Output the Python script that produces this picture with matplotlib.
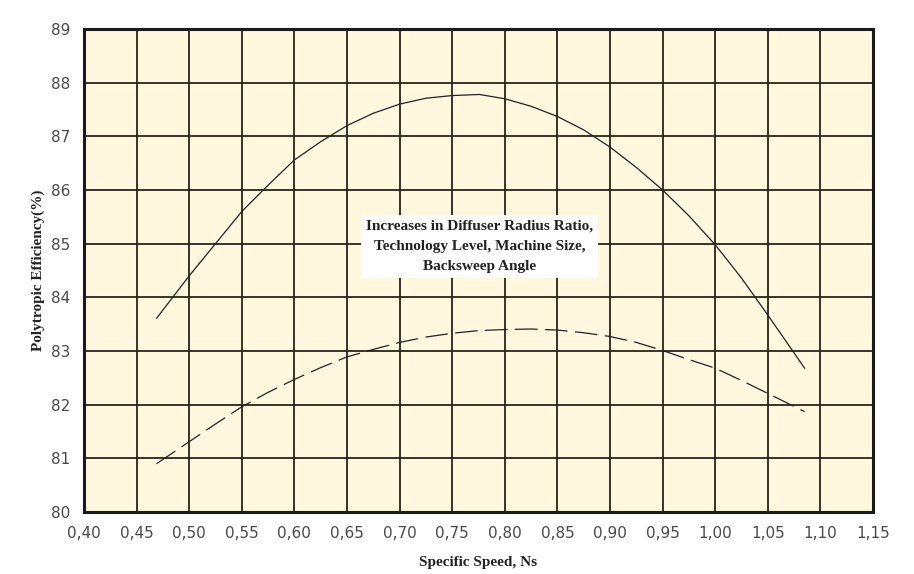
import matplotlib
matplotlib.use("Agg")
import matplotlib.pyplot as plt
from matplotlib.ticker import FuncFormatter, MultipleLocator

# Data
solid_x = [0.469, 0.50, 0.525, 0.55, 0.575, 0.60, 0.625, 0.65, 0.675, 0.70, 0.725, 0.75, 0.776,
           0.80, 0.825, 0.85, 0.875, 0.90, 0.925, 0.95, 0.975, 1.00, 1.025, 1.05, 1.085]
solid_y = [83.61, 84.40, 85.00, 85.60, 86.09, 86.56, 86.90, 87.20, 87.43, 87.60, 87.71, 87.76, 87.78,
           87.70, 87.56, 87.37, 87.12, 86.80, 86.42, 86.00, 85.52, 84.98, 84.36, 83.67, 82.68]

dashed_x = [0.469, 0.50, 0.525, 0.55, 0.575, 0.60, 0.625, 0.65, 0.675, 0.70, 0.725, 0.75, 0.775,
            0.80, 0.825, 0.85, 0.875, 0.90, 0.925, 0.95, 0.975, 1.00, 1.025, 1.05, 1.085]
dashed_y = [80.90, 81.31, 81.64, 81.96, 82.23, 82.47, 82.69, 82.89, 83.03, 83.16, 83.26, 83.33, 83.38,
            83.40, 83.41, 83.39, 83.34, 83.27, 83.16, 83.01, 82.84, 82.68, 82.45, 82.21, 81.87]

xlabel = "Specific Speed, Ns"
ylabel = "Polytropic Efficiency(%)"
note = "Increases in Diffuser Radius Ratio,\nTechnology Level, Machine Size,\nBacksweep Angle"
note_pos = (0.776, 84.95)

fig = plt.figure(figsize=(9.14, 5.74), dpi=100)
ax = fig.add_axes([84/914, 1-512/574, (873-84)/914, (512-29)/574])
ax.set_facecolor("#FFF7DE")

ax.set_xlim(0.40, 1.15)
ax.set_ylim(80, 89)
ax.xaxis.set_major_locator(MultipleLocator(0.05))
ax.yaxis.set_major_locator(MultipleLocator(1))
ax.xaxis.set_major_formatter(FuncFormatter(lambda v, p: f"{v:.2f}".replace(".", ",")))
ax.yaxis.set_major_formatter(FuncFormatter(lambda v, p: f"{v:.0f}"))
ax.grid(True, color="#2a2418", linewidth=1.3)
ax.set_axisbelow(True)
ax.tick_params(length=0, labelsize=11, labelcolor="#4a4a4a", pad=10)
for s in ax.spines.values():
    s.set_linewidth(2.2)
    s.set_color("#1a1a1a")

ax.plot(solid_x, solid_y, color="#222222", linewidth=0.9, zorder=3)
ax.plot(dashed_x, dashed_y, color="#222222", linewidth=0.9, dashes=(18, 6), zorder=3)

ax.text(note_pos[0], note_pos[1], note, ha="center", va="center",
        family="Liberation Serif", fontweight="bold", fontsize=11, color="#222222",
        linespacing=1.7, zorder=4,
        bbox=dict(boxstyle="square,pad=0.35", facecolor="#FFFFFF", edgecolor="none"))

ax.set_xlabel(xlabel, family="Liberation Serif", fontweight="bold", fontsize=11,
              color="#222222", labelpad=11)
ax.set_ylabel(ylabel, family="Liberation Serif", fontweight="bold", fontsize=11,
              color="#222222", labelpad=4)

fig.savefig("out.png", dpi=100, facecolor="white")
